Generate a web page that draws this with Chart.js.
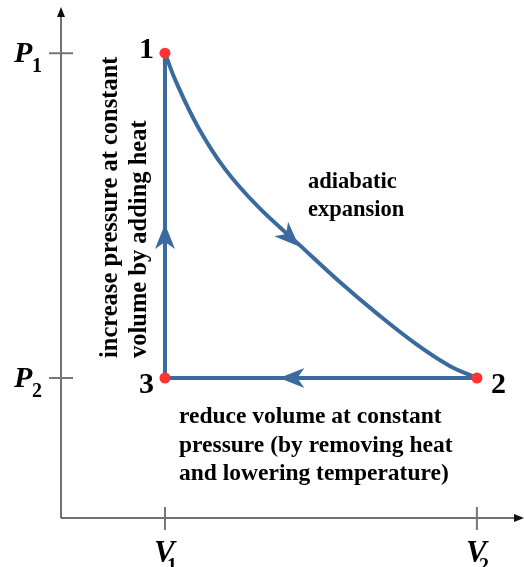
<!DOCTYPE html>
<html lang="en">
<head>
    <meta charset="UTF-8">
    <title>P-V cycle</title>
    <script src="https://cdn.jsdelivr.net/npm/chart.js"></script>
    <style>
        body {
            margin: 0;
            background-color: #ffffff;
        }
        canvas { display: block; }
    </style>
</head>
<body>
    <canvas id="cycleChart" width="524" height="567"></canvas>

    <script>
        // Estados del ciclo (V, P)
        const stateNames = ['1', '2', '3'];
        const stateV = [1.00, 4.00, 1.00];
        const stateP = [3.32, 1.00, 1.00];

        // Curva adiabática 1 -> 2
        const curveV = [1.00, 1.11, 1.32, 1.58, 1.90, 2.28, 2.66, 3.04, 3.42, 3.73, 4.00];
        const curveP = [3.32, 3.11, 2.79, 2.49, 2.22, 1.96, 1.70, 1.46, 1.24, 1.09, 1.00];

        // Marcas de los ejes
        const vTicks = [1, 4];
        const vTickLabels = ['1', '2'];
        const pTicks = [3.32, 1.00];
        const pTickLabels = ['1', '2'];

        // Puntas de flecha: punta y punto de donde viene
        const arrowTips = [
            { from: [1.00, 1.90], to: [1.00, 2.10] },
            { from: [1.90, 2.22], to: [2.29, 1.94] },
            { from: [2.30, 1.00], to: [2.10, 1.00] }
        ];

        const blue = '#3a6a9e';
        const serif = "'Liberation Serif', 'Times New Roman', serif";

        const drawArrowHead = (ctx, x1, y1, x2, y2) => {
            const a = Math.atan2(y2 - y1, x2 - x1);
            const len = 25, half = 10, notch = 7;
            ctx.save();
            ctx.translate(x2, y2);
            ctx.rotate(a);
            ctx.beginPath();
            ctx.moveTo(0, 0);
            ctx.lineTo(-len, -half);
            ctx.lineTo(-len + notch, 0);
            ctx.lineTo(-len, half);
            ctx.closePath();
            ctx.fillStyle = blue;
            ctx.fill();
            ctx.restore();
        };

        const axesPlugin = {
            id: 'axesPlugin',
            beforeDatasetsDraw(chart) {
                const ctx = chart.ctx;
                const xs = chart.scales.x, ys = chart.scales.y;
                const x0 = xs.getPixelForValue(0), y0 = ys.getPixelForValue(0);
                ctx.save();
                // ejes
                ctx.strokeStyle = '#444';
                ctx.lineWidth = 1.5;
                ctx.beginPath();
                ctx.moveTo(x0, y0);
                ctx.lineTo(x0, 14);
                ctx.moveTo(x0, y0);
                ctx.lineTo(516, y0);
                ctx.stroke();
                ctx.fillStyle = '#111';
                ctx.beginPath();
                ctx.moveTo(x0, 7); ctx.lineTo(x0 - 4, 17); ctx.lineTo(x0 + 4, 17); ctx.closePath();
                ctx.fill();
                ctx.beginPath();
                ctx.moveTo(524, y0); ctx.lineTo(514, y0 - 4); ctx.lineTo(514, y0 + 4); ctx.closePath();
                ctx.fill();
                // marcas
                ctx.strokeStyle = '#777';
                ctx.lineWidth = 2;
                ctx.beginPath();
                pTicks.forEach(p => {
                    const y = ys.getPixelForValue(p);
                    ctx.moveTo(x0 - 12, y); ctx.lineTo(x0 + 12, y);
                });
                vTicks.forEach(v => {
                    const x = xs.getPixelForValue(v);
                    ctx.moveTo(x, y0 - 11); ctx.lineTo(x, y0 + 12);
                });
                ctx.stroke();
                // etiquetas con subíndice
                ctx.fillStyle = '#000';
                ctx.textAlign = 'left';
                ctx.textBaseline = 'alphabetic';
                pTicks.forEach((p, i) => {
                    const y = ys.getPixelForValue(p);
                    ctx.font = 'italic bold 30px ' + serif;
                    ctx.fillText('P', 14, y + 9);
                    ctx.font = 'bold 20px ' + serif;
                    ctx.fillText(pTickLabels[i], 32, y + 19);
                });
                vTicks.forEach((v, i) => {
                    const x = xs.getPixelForValue(v);
                    ctx.font = 'italic bold 31px ' + serif;
                    ctx.fillText('V', x - 11, y0 + 44);
                    ctx.font = 'bold 20px ' + serif;
                    ctx.fillText(vTickLabels[i], x + 2, y0 + 54);
                });
                ctx.restore();
            },
            afterDatasetsDraw(chart) {
                const ctx = chart.ctx;
                const xs = chart.scales.x, ys = chart.scales.y;
                arrowTips.forEach(a => {
                    drawArrowHead(ctx,
                        xs.getPixelForValue(a.from[0]), ys.getPixelForValue(a.from[1]),
                        xs.getPixelForValue(a.to[0]), ys.getPixelForValue(a.to[1]));
                });
                ctx.save();
                ctx.fillStyle = '#000';
                // números de estado
                ctx.font = 'bold 30px ' + serif;
                ctx.textBaseline = 'alphabetic';
                const offs = [[-11, 'right', 5], [14, 'left', 15], [-11, 'right', 15]];
                stateV.forEach((v, i) => {
                    ctx.textAlign = offs[i][1];
                    ctx.fillText(stateNames[i], xs.getPixelForValue(v) + offs[i][0], ys.getPixelForValue(stateP[i]) + offs[i][2]);
                });
                // textos
                ctx.textAlign = 'left';
                ctx.font = 'bold 22.5px ' + serif;
                ctx.fillText('adiabatic', 308, 188);
                ctx.fillText('expansion', 308, 216);
                ctx.font = 'bold 23.5px ' + serif;
                ctx.fillText('reduce volume at constant', 179, 423);
                ctx.fillText('pressure (by removing heat', 179, 452);
                ctx.fillText('and lowering temperature)', 179, 480);
                ctx.font = 'bold 24.5px ' + serif;
                ctx.translate(117, 358);
                ctx.rotate(-Math.PI / 2);
                ctx.fillText('increase pressure at constant', 0, 0);
                ctx.fillText('volume by adding heat', 0, 29);
                ctx.restore();
            }
        };

        const ctx = document.getElementById('cycleChart');
        const chart = new Chart(ctx, {
            type: 'scatter',
            data: {
                datasets: [
                    {
                        label: 'Estados',
                        data: stateV.map((v, i) => ({ x: v, y: stateP[i] })),
                        backgroundColor: '#ff3333',
                        borderWidth: 0,
                        pointRadius: 5.5,
                        clip: false
                    },
                    {
                        label: 'Adiabática',
                        data: curveV.map((v, i) => ({ x: v, y: curveP[i] })),
                        showLine: true,
                        borderColor: blue,
                        borderWidth: 4,
                        pointRadius: 0,
                        tension: 0.4,
                        clip: false
                    },
                    {
                        label: 'Isobara e isocora',
                        data: [
                            { x: stateV[1], y: stateP[1] },
                            { x: stateV[2], y: stateP[2] },
                            { x: stateV[0], y: stateP[0] }
                        ],
                        showLine: true,
                        borderColor: blue,
                        borderWidth: 4,
                        pointRadius: 0,
                        borderJoinStyle: 'miter',
                        clip: false
                    }
                ]
            },
            options: {
                animation: false,
                responsive: false,
                layout: { padding: { left: 61, right: 1, top: 14, bottom: 49 } },
                plugins: {
                    legend: { display: false },
                    tooltip: { enabled: false }
                },
                scales: {
                    x: { type: 'linear', min: 0, max: 4.4, display: false },
                    y: { type: 'linear', min: 0, max: 3.6, display: false }
                }
            },
            plugins: [axesPlugin]
        });
    </script>
</body>
</html>
